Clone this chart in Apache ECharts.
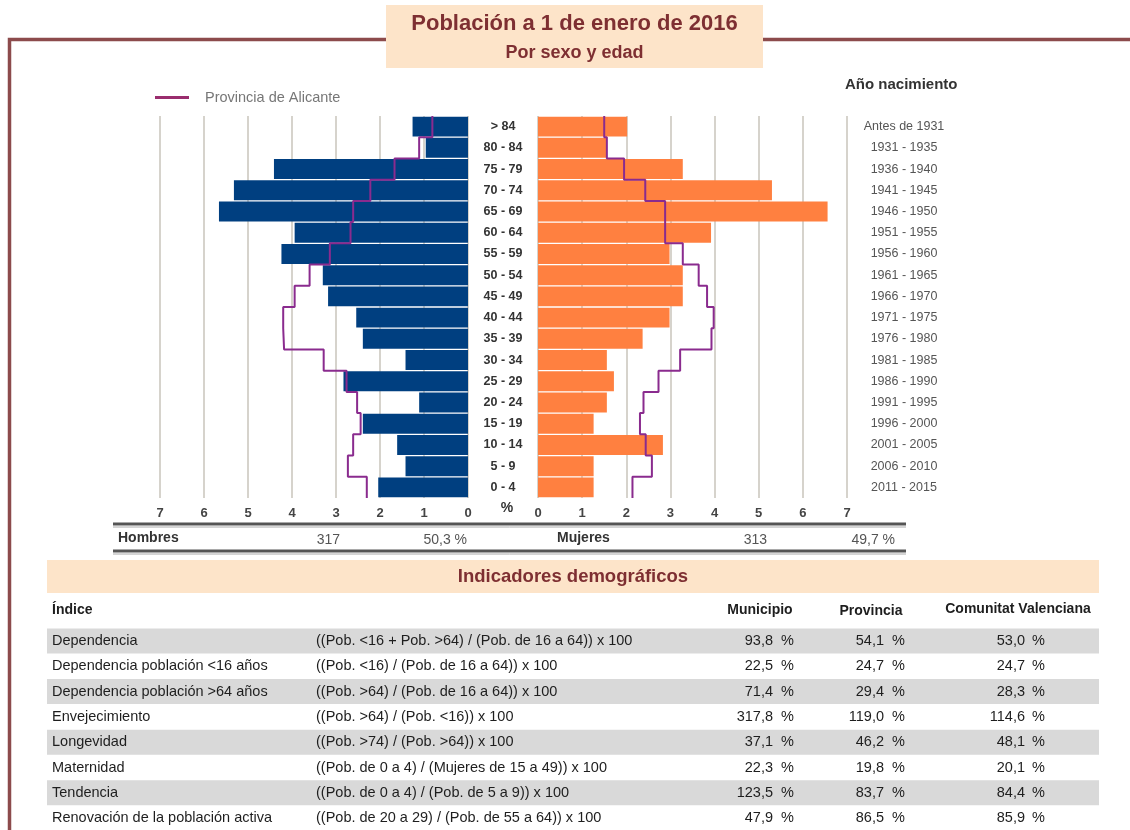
<!DOCTYPE html>
<html><head><meta charset="utf-8">
<script src="https://cdn.jsdelivr.net/npm/echarts@6/dist/echarts.min.js"></script>
<style>html,body{margin:0;padding:0;background:#fff}#c{width:1130px;height:830px}</style>
</head><body><div id="c"></div><script>
// ---- data ----
const ageGroups = ['> 84','80 - 84','75 - 79','70 - 74','65 - 69','60 - 64','55 - 59','50 - 54','45 - 49','40 - 44','35 - 39','30 - 34','25 - 29','20 - 24','15 - 19','10 - 14','5 - 9','0 - 4'];
const birthYears = ['Antes de 1931','1931 - 1935','1936 - 1940','1941 - 1945','1946 - 1950','1951 - 1955','1956 - 1960','1961 - 1965','1966 - 1970','1971 - 1975','1976 - 1980','1981 - 1985','1986 - 1990','1991 - 1995','1996 - 2000','2001 - 2005','2006 - 2010','2011 - 2015'];
const hombres = [1.26,0.96,4.41,5.32,5.66,3.94,4.24,3.30,3.18,2.54,2.39,1.42,2.83,1.11,2.39,1.61,1.42,2.04];
const mujeres = [2.02,1.56,3.28,5.30,6.56,3.92,2.98,3.28,3.28,2.98,2.37,1.56,1.72,1.56,1.26,2.83,1.26,1.26];
const provHombres = [0.81,1.11,1.67,2.22,2.61,2.67,3.14,3.60,3.94,4.20,4.18,3.28,2.76,2.52,2.44,2.61,2.73,2.30];
const provMujeres = [1.50,1.56,1.95,2.43,2.88,2.88,3.28,3.64,3.83,3.98,3.93,3.22,2.73,2.39,2.31,2.44,2.58,2.14];
const xTicks = [0,1,2,3,4,5,6,7];
const totHombres = '317', pctHombres = '50,3 %';
const totMujeres = '313', pctMujeres = '49,7 %';
const indices = ['Dependencia','Dependencia población <16 años','Dependencia población >64 años','Envejecimiento','Longevidad','Maternidad','Tendencia','Renovación de la población activa'];
const formulas = ['((Pob. <16 + Pob. >64) / (Pob. de 16 a 64)) x 100','((Pob. <16) / (Pob. de 16 a 64)) x 100','((Pob. >64) / (Pob. de 16 a 64)) x 100','((Pob. >64) / (Pob. <16)) x 100','((Pob. >74) / (Pob. >64)) x 100','((Pob. de 0 a 4) / (Mujeres de 15 a 49)) x 100','((Pob. de 0 a 4) / (Pob. de 5 a 9)) x 100','((Pob. de 20 a 29) / (Pob. de 55 a 64)) x 100'];
const municipio = ['93,8','22,5','71,4','317,8','37,1','22,3','123,5','47,9'];
const provincia = ['54,1','24,7','29,4','119,0','46,2','19,8','83,7','86,5'];
const comunitat = ['53,0','24,7','28,3','114,6','48,1','20,1','84,4','85,9'];
const colHeaders = ['Índice','Municipio','Provincia','Comunitat Valenciana'];

// ---- styles ----
const SANS = "'Liberation Sans',Arial,sans-serif";
const BROWN = '#7e2f32';
const PEACH = '#fde4c9';
const LINE = '#8a2b8e';

function stepPoints(vals){ const p=[]; vals.forEach((v,i)=>{p.push([v,i]);p.push([v,i+1]);}); return p; }
function txt(text,x,y,opt){
  opt = opt||{};
  const a = opt.align||'left', va = opt.va||'middle';
  return {type:'text', x:x, y:y, silent:true, style:{text:text, fill:opt.color||'#1e1e1e', font:opt.font||('14.5px '+SANS), align:a, textAlign:a, verticalAlign:va, textVerticalAlign:va}};
}

const g = [];
// frame
g.push({type:'polyline', silent:true, shape:{points:[[386,39.5],[9.5,39.5],[9.5,830]]}, style:{stroke:'#8c4b4c', lineWidth:3.5, fill:null}});
g.push({type:'line', silent:true, shape:{x1:763,y1:39.5,x2:1130,y2:39.5}, style:{stroke:'#8c4b4c', lineWidth:3.5}});
// title box
g.push({type:'rect', silent:true, shape:{x:386,y:5,width:377,height:63}, style:{fill:PEACH}});
g.push(txt('Población a 1 de enero de 2016',574.5,24,{align:'center',color:BROWN,font:'bold 22px '+SANS}));
g.push(txt('Por sexo y edad',574.5,53,{align:'center',color:BROWN,font:'bold 18px '+SANS}));
g.push(txt('Año nacimiento',845,85,{color:'#333',font:'bold 15px '+SANS}));
g.push(txt('%',507,508,{align:'center',color:'#333',font:'bold 14px '+SANS}));
// totals
g.push({type:'line', silent:true, shape:{x1:113,y1:524,x2:906,y2:524}, style:{stroke:'#555',lineWidth:3}});
g.push({type:'line', silent:true, shape:{x1:113,y1:527,x2:906,y2:527}, style:{stroke:'#aaa',lineWidth:1}});
g.push({type:'line', silent:true, shape:{x1:113,y1:551,x2:906,y2:551}, style:{stroke:'#555',lineWidth:3}});
g.push({type:'line', silent:true, shape:{x1:113,y1:554,x2:906,y2:554}, style:{stroke:'#aaa',lineWidth:1}});
g.push(txt('Hombres',118,538,{color:'#333',font:'bold 14px '+SANS}));
g.push(txt(totHombres,340,540,{align:'right',color:'#555',font:'14px '+SANS}));
g.push(txt(pctHombres,467,540,{align:'right',color:'#555',font:'14px '+SANS}));
g.push(txt('Mujeres',557,538,{color:'#333',font:'bold 14px '+SANS}));
g.push(txt(totMujeres,767,540,{align:'right',color:'#555',font:'14px '+SANS}));
g.push(txt(pctMujeres,895,540,{align:'right',color:'#555',font:'14px '+SANS}));
// indicators
g.push({type:'rect', silent:true, shape:{x:47,y:560,width:1052,height:33}, style:{fill:PEACH}});
g.push(txt('Indicadores demográficos',573,577,{align:'center',color:BROWN,font:'bold 18.5px '+SANS}));
g.push(txt(colHeaders[0],52,610,{font:'bold 14px '+SANS}));
g.push(txt(colHeaders[1],760,610,{align:'center',font:'bold 14px '+SANS}));
g.push(txt(colHeaders[2],871,611,{align:'center',font:'bold 14px '+SANS}));
g.push(txt(colHeaders[3],1018,609,{align:'center',font:'bold 14px '+SANS}));
indices.forEach((name,i)=>{
  const y = 641 + i*25.3;
  if(i%2===0) g.push({type:'rect', silent:true, shape:{x:47,y:y-12.5,width:1052,height:25}, style:{fill:'#d9d9d9'}});
  g.push(txt(name,52,y,{}));
  g.push(txt(formulas[i],316,y,{}));
  g.push(txt(municipio[i],773,y,{align:'right'}));
  g.push(txt('%',781,y,{}));
  g.push(txt(provincia[i],884,y,{align:'right'}));
  g.push(txt('%',892,y,{}));
  g.push(txt(comunitat[i],1025,y,{align:'right'}));
  g.push(txt('%',1032,y,{}));
});

const xAxisBase = {
  type:'value', min:xTicks[0], max:xTicks[xTicks.length-1], interval:1,
  axisLine:{show:false}, axisTick:{show:false},
  axisLabel:{color:'#444', fontSize:13, fontWeight:'bold', fontFamily:SANS, margin:9},
  splitLine:{lineStyle:{color:'#d6d3cc', width:2}}
};
const option = {
  animation:false,
  backgroundColor:'#fff',
  grid:[{left:160,top:116,width:308,height:382},{left:538,top:116,width:309,height:382}],
  xAxis:[Object.assign({gridIndex:0, inverse:true}, xAxisBase), Object.assign({gridIndex:1}, xAxisBase)],
  yAxis:[
    {gridIndex:0, type:'category', data:ageGroups, inverse:true, axisLine:{show:false}, axisTick:{show:false}, axisLabel:{show:false}},
    {gridIndex:0, type:'value', min:0, max:ageGroups.length, inverse:true, show:false},
    {gridIndex:1, type:'category', data:ageGroups, inverse:true, position:'left', axisLine:{show:false}, axisTick:{show:false},
      axisLabel:{align:'center', margin:35, color:'#333', fontSize:12.5, fontWeight:'bold', fontFamily:SANS}},
    {gridIndex:1, type:'category', data:birthYears, inverse:true, position:'right', axisLine:{show:false}, axisTick:{show:false},
      axisLabel:{align:'center', margin:57, color:'#555', fontSize:12.5, fontFamily:SANS}},
    {gridIndex:1, type:'value', min:0, max:ageGroups.length, inverse:true, show:false}
  ],
  legend:{left:155, top:90, padding:0, itemWidth:34, itemHeight:3, icon:'rect', selectedMode:false,
    data:[{name:'Provincia de Alicante', itemStyle:{color:'#9a2d6e'}}],
    textStyle:{color:'#777', fontSize:14.5, fontFamily:SANS, padding:[0,0,0,11]}},
  series:[
    {type:'bar', name:'Hombres', xAxisIndex:0, yAxisIndex:0, data:hombres, barCategoryGap:'6%', itemStyle:{color:'#003f80'}},
    {type:'bar', name:'Mujeres', xAxisIndex:1, yAxisIndex:2, data:mujeres, barCategoryGap:'6%', itemStyle:{color:'#ff8040'}},
    {type:'line', name:'Provincia de Alicante', xAxisIndex:0, yAxisIndex:1, data:stepPoints(provHombres), symbol:'none', lineStyle:{color:LINE, width:2}, itemStyle:{color:LINE}, z:5},
    {type:'line', name:'Provincia de Alicante', xAxisIndex:1, yAxisIndex:4, data:stepPoints(provMujeres), symbol:'none', lineStyle:{color:LINE, width:2}, itemStyle:{color:LINE}, z:5}
  ],
  graphic:{elements:g}
};
const chart = echarts.init(document.getElementById('c'));
chart.setOption(option);
</script></body></html>
